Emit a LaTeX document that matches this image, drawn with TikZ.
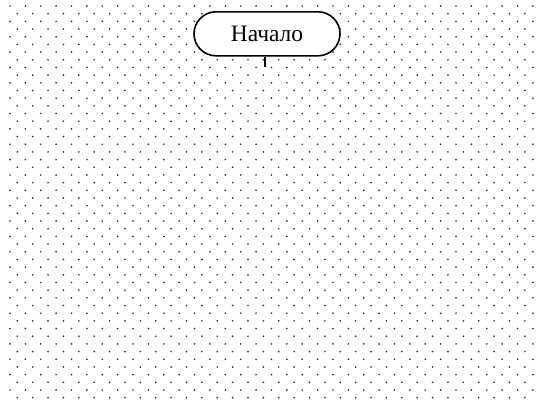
\documentclass[tikz,border=0pt]{standalone}
\usepackage{fontspec}
\setmainfont{Liberation Serif}
\begin{document}
\begin{tikzpicture}[x=1pt,y=-1pt,
  dotc/.style={fill=black!80},
  terminal/.style={draw=black, line width=1.6pt, fill=white, minimum width=146pt, minimum height=44pt,
    rounded corners=22pt, inner sep=0pt, font=\fontsize{23.5}{28}\selectfont},
  tick/.style={draw=black, line width=1.8pt}]
\fill[white] (0,0) rectangle (538,399);
\clip (0,0) rectangle (538,399);
\foreach \r in {0,...,51}{
  \pgfmathsetmacro\yy{6+7.68*\r}
  \pgfmathsetmacro\xo{mod(\r,2)==1 ? 17.3 : 10}
  \foreach \c in {0,...,34}{
    \fill[dotc] (\xo+15.38*\c,\yy) circle (0.95pt);
  }
}
\node[terminal] (start) at (267,33.8) {Начало};
\coordinate (t) at (265,67);
\draw[tick] (start.south -| t) -- (t);
\end{tikzpicture}
\end{document}
